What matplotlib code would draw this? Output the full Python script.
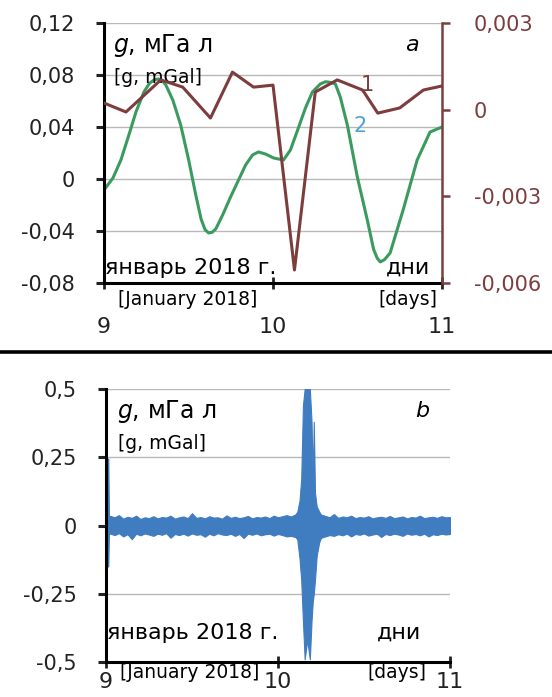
import matplotlib
matplotlib.use("Agg")
import matplotlib.pyplot as plt

plt.rcParams["font.family"] = ["DejaVu Sans"]
plt.rcParams["mathtext.fontset"] = "dejavusans"

# panel a, curve 1 (right axis)
days_1 = [9.0, 9.13, 9.336, 9.466, 9.63, 9.76, 9.885, 10.0, 10.127,
          10.25, 10.38, 10.53, 10.62, 10.75, 10.89, 11.0]
g_1 = [0.00023, -0.00008, 0.00103, 0.00078, -0.00029, 0.0013, 0.00078,
       0.00085, -0.00555, 0.00061, 0.00103, 0.00068, -0.00012, 0.00006,
       0.00068, 0.00082]

# panel a, curve 2 (left axis)
days_2 = [9.000, 9.053, 9.100, 9.147, 9.189, 9.236, 9.270, 9.300, 9.324,
          9.345, 9.366, 9.407, 9.454, 9.501, 9.543, 9.575, 9.598, 9.619,
          9.640, 9.661, 9.702, 9.749, 9.796, 9.838, 9.879, 9.914, 9.956,
          10.003, 10.062, 10.103, 10.150, 10.192, 10.233, 10.280, 10.310,
          10.327, 10.350, 10.369, 10.398, 10.440, 10.499, 10.558, 10.595,
          10.617, 10.635, 10.660, 10.693, 10.770, 10.853, 10.929, 11.000]
g_2 = [-0.0085, 0.0008, 0.0146, 0.0338, 0.0515, 0.0669, 0.0738, 0.0765,
       0.0769, 0.0758, 0.0723, 0.0608, 0.0415, 0.0146, -0.0123, -0.0310,
       -0.0390, -0.0415, -0.0410, -0.0385, -0.0277, -0.0138, -0.0008,
       0.0108, 0.0185, 0.0208, 0.0192, 0.0162, 0.0146, 0.0223, 0.0392,
       0.0546, 0.0669, 0.0731, 0.0748, 0.0746, 0.0740, 0.0731, 0.0631,
       0.0415, 0.0015, -0.0315, -0.0540, -0.0610, -0.0638, -0.0620, -0.0569,
       -0.0238, 0.0146, 0.0361, 0.0400]

# panel b, envelope of the record
days_b = [9.0, 9.006, 9.010, 9.013, 9.017,
          9.025, 9.05, 9.075, 9.10, 9.125, 9.15, 9.175, 9.20, 9.225, 9.25,
          9.275, 9.30, 9.325, 9.35, 9.375, 9.40, 9.425, 9.45, 9.475, 9.50,
          9.525, 9.55, 9.575, 9.60, 9.625, 9.65, 9.675, 9.70, 9.725, 9.75,
          9.775, 9.80, 9.825, 9.85, 9.875, 9.90, 9.925, 9.95, 9.975, 10.00,
          10.025, 10.05, 10.075, 10.10,
          10.112, 10.125, 10.135, 10.145, 10.155, 10.17, 10.185, 10.195,
          10.202, 10.208, 10.215, 10.225, 10.24,
          10.25, 10.275, 10.30, 10.325, 10.35, 10.375, 10.40, 10.425, 10.45,
          10.475, 10.50, 10.525, 10.55, 10.575, 10.60, 10.625, 10.65, 10.675,
          10.70, 10.725, 10.75, 10.775, 10.80, 10.825, 10.85, 10.875, 10.90,
          10.925, 10.95, 10.975, 11.00]
g_b_hi = [0.02, 0.03, 0.245, 0.245, 0.035,
          0.035, 0.03, 0.038, 0.025, 0.032, 0.028, 0.036, 0.024, 0.03, 0.027,
          0.034, 0.026, 0.031, 0.029, 0.036, 0.025, 0.03, 0.033, 0.027, 0.045,
          0.028, 0.031, 0.026, 0.034, 0.029, 0.03, 0.025, 0.037, 0.028, 0.032,
          0.027, 0.03, 0.035, 0.026, 0.031, 0.029, 0.033, 0.027, 0.036, 0.03,
          0.034, 0.038, 0.033, 0.04,
          0.05, 0.09, 0.17, 0.44, 0.5, 0.5, 0.5, 0.38,
          0.16, 0.38, 0.12, 0.07, 0.05,
          0.04, 0.035, 0.03, 0.042, 0.028, 0.033, 0.03, 0.036, 0.027,
          0.031, 0.029, 0.034, 0.026, 0.03, 0.032, 0.028, 0.035, 0.027,
          0.03, 0.033, 0.026, 0.031, 0.029, 0.036, 0.027, 0.03, 0.032,
          0.028, 0.034, 0.03, 0.031]
g_b_lo = [-0.02, -0.03, -0.15, -0.15, -0.03,
          -0.03, -0.035, -0.028, -0.04, -0.032, -0.05, -0.03, -0.036, -0.029,
          -0.033, -0.038, -0.03, -0.034, -0.028, -0.045, -0.031, -0.035, -0.03,
          -0.037, -0.029, -0.034, -0.032, -0.041, -0.03, -0.036, -0.028,
          -0.033, -0.035, -0.03, -0.038, -0.031, -0.046, -0.03, -0.034,
          -0.029, -0.036, -0.032, -0.03, -0.037, -0.031, -0.035, -0.04,
          -0.038, -0.042,
          -0.05, -0.12, -0.2, -0.35, -0.49, -0.42, -0.49, -0.35,
          -0.28, -0.25, -0.2, -0.11, -0.06,
          -0.045, -0.04, -0.035, -0.038, -0.032, -0.036, -0.03, -0.04, -0.031,
          -0.034, -0.029, -0.037, -0.033, -0.03, -0.042, -0.031, -0.035,
          -0.03, -0.033, -0.038, -0.029, -0.034, -0.031, -0.036, -0.03,
          -0.04, -0.032, -0.035, -0.03, -0.033, -0.031]

ticks_a_left = [-0.08, -0.04, 0, 0.04, 0.08, 0.12]
labels_a_left = ["-0,08", "-0,04", "0", "0,04", "0,08", "0,12"]
ticks_a_right = [-0.006, -0.003, 0, 0.003]
labels_a_right = ["-0,006", "-0,003", "0", "0,003"]
ticks_b = [-0.5, -0.25, 0, 0.25, 0.5]
labels_b = ["-0,5", "-0,25", "0", "0,25", "0,5"]
day_ticks = [9, 10, 11]
day_labels = ["9", "10", "11"]

BROWN = "#7e3d3d"
GREEN = "#3b9b5f"
BLUE = "#3f7cc0"
GRID = "#b8b8b8"
FS_TICK = 15
FS = 16
FS_G = 17
FS_SMALL = 13.5

W, H = 552, 697
fig = plt.figure(figsize=(W / 100, H / 100), dpi=100)


def px_axes(x0, x1, y0, y1):
    return fig.add_axes([x0 / W, 1 - y1 / H, (x1 - x0) / W, (y1 - y0) / H])


def style_base(ax, xpad):
    ax.set_xlim(9, 11)
    ax.set_xticks(day_ticks)
    ax.set_xticklabels(day_labels)
    for s in ("top", "right"):
        ax.spines[s].set_visible(False)
    for s in ("left", "bottom"):
        ax.spines[s].set_linewidth(2.2)
        ax.spines[s].set_color("black")
    ax.tick_params(axis="x", direction="inout", length=9, width=2,
                   labelsize=FS_TICK + 1, pad=xpad, colors="#222222")
    ax.tick_params(axis="y", direction="out", length=6, width=2.2,
                   labelsize=FS_TICK, pad=15, colors="#222222")
    ax.yaxis.grid(True, color=GRID, lw=1)
    ax.set_axisbelow(True)


# ---- panel a ----
ax = px_axes(104, 442, 23, 283)
style_base(ax, 20)
ax.set_ylim(-0.08, 0.12)
ax.set_yticks(ticks_a_left)
ax.set_yticklabels(labels_a_left)
ax.plot(days_2, g_2, color=GREEN, lw=2.2)

axr = ax.twinx()
axr.set_ylim(-0.006, 0.003)
axr.set_yticks(ticks_a_right)
axr.set_yticklabels(labels_a_right)
for s in ("top", "left", "bottom"):
    axr.spines[s].set_visible(False)
axr.spines["right"].set_color(BROWN)
axr.spines["right"].set_linewidth(1.8)
axr.tick_params(axis="y", direction="out", length=6, width=1.8,
                labelsize=FS_TICK, pad=17, colors=BROWN)
axr.plot(days_1, g_1, color=BROWN, lw=2.2)

ax.text(0.027, 0.915, r"$g$, мГа л", transform=ax.transAxes,
        fontsize=FS_G, va="center", ha="left")
ax.text(0.03, 0.79, "[g, mGal]", transform=ax.transAxes,
        fontsize=FS_SMALL, va="center", ha="left")
ax.text(0.89, 0.915, "a", transform=ax.transAxes, fontsize=FS,
        style="italic", va="center", ha="left")
ax.text(10.56, 0.072, "1", color=BROWN, fontsize=15, ha="center",
        va="center")
ax.text(10.515, 0.041, "2", color="#4da3d6", fontsize=15, ha="center",
        va="center")
ax.text(0.004, 0.058, "январь 2018 г.", transform=ax.transAxes,
        fontsize=FS, va="center", ha="left")
ax.text(0.965, 0.058, "дни", transform=ax.transAxes, fontsize=FS,
        va="center", ha="right")
ax.text(0.04, -0.065, "[January 2018]", transform=ax.transAxes,
        fontsize=FS_SMALL, va="center", ha="left")
ax.text(0.985, -0.065, "[days]", transform=ax.transAxes,
        fontsize=FS_SMALL, va="center", ha="right")

# separator
fig.add_artist(plt.Line2D([0, 1], [1 - 352 / H, 1 - 352 / H],
                          transform=fig.transFigure, color="black", lw=2.6))

# ---- panel b ----
bx = px_axes(106, 450, 389, 662)
style_base(bx, 3)
bx.set_ylim(-0.5, 0.5)
bx.set_yticks(ticks_b)
bx.set_yticklabels(labels_b)
bx.fill_between(days_b, g_b_lo, g_b_hi, color=BLUE, lw=0.8,
                edgecolor=BLUE)

bx.text(0.032, 0.916, r"$g$, мГа л", transform=bx.transAxes,
        fontsize=FS_G, va="center", ha="left")
bx.text(0.035, 0.80, "[g, mGal]", transform=bx.transAxes,
        fontsize=FS_SMALL, va="center", ha="left")
bx.text(0.90, 0.92, "b", transform=bx.transAxes, fontsize=FS,
        style="italic", va="center", ha="left")
bx.text(0.004, 0.106, "январь 2018 г.", transform=bx.transAxes,
        fontsize=FS, va="center", ha="left")
bx.text(0.916, 0.106, "дни", transform=bx.transAxes, fontsize=FS,
        va="center", ha="right")
bx.text(0.04, -0.04, "[January 2018]", transform=bx.transAxes,
        fontsize=FS_SMALL, va="center", ha="left")
bx.text(0.93, -0.04, "[days]", transform=bx.transAxes,
        fontsize=FS_SMALL, va="center", ha="right")

fig.savefig("out.png", dpi=100)
